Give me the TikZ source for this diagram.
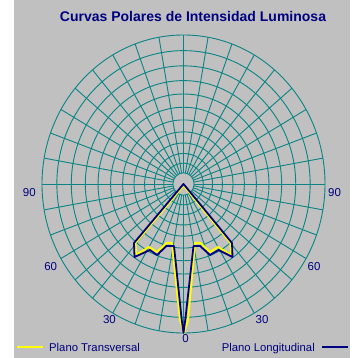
\documentclass[tikz,border=0pt]{standalone}
\usepackage{fontspec}
\setmainfont{Liberation Sans}
\definecolor{panelgray}{RGB}{192,192,192}
\definecolor{gridteal}{RGB}{10,132,132}
\definecolor{labelnavy}{RGB}{0,0,128}
\definecolor{curveyellow}{RGB}{255,255,0}
\begin{document}
\begin{tikzpicture}[
    % pixel-like units, y grows downwards
    x=1pt, y=-1pt,
    grid/.style={gridteal, line width=0.9pt},
    anglelabel/.style={text=labelnavy, font=\fontsize{11.5}{11.5}\selectfont, inner sep=0pt},
    legendtext/.style={text=labelnavy, font=\fontsize{11.3}{11.3}\selectfont, inner sep=0pt},
    transversal/.style={curveyellow, line width=2pt, line join=round},
    longitudinal/.style={labelnavy, line width=1.8pt, line join=round}
]
    \useasboundingbox (0,0) rectangle (358,358);
    \fill[panelgray] (14,0) rectangle (350,358);

    % --- Centre of the polar chart ---
    \coordinate (C) at (183.5,184);

    % --- Rings ---
    \foreach \f in {0.075,0.14,0.205,0.275,0.35,0.43,0.515,0.604,0.694,0.793,0.895,1}
        \draw[grid] (C) ellipse [x radius=\f*141.5pt, y radius=\f*149pt];

    % --- Spokes every 10 degrees ---
    \foreach \a in {0,10,...,350}
        \draw[grid] ([shift={(C)}]\a:10.6pt and 11.2pt) -- ([shift={(C)}]\a:141.5pt and 149pt);

    % --- Angle labels ---
    \node[anglelabel] (l90w) at (29.3,192.5) {90};
    \node[anglelabel] (l90e) at (334.5,192.5) {90};
    \node[anglelabel] (l60w) at (50.7,267) {60};
    \node[anglelabel] (l60e) at (314,267) {60};
    \node[anglelabel] (l30w) at (109.5,320) {30};
    \node[anglelabel] (l30e) at (262,320) {30};
    \node[anglelabel] (l0) at (185.5,339) {0};

    % --- Intensity curves ---
    \draw[transversal] (183.5,185.5) -- (230.5,243) -- (231,255) -- (218,247) -- (210,252)
        -- (200.5,243) -- (195,243) -- (188,320) -- (184,333) -- (180,320) -- (172,243)
        -- (166.5,243) -- (157,252) -- (149,247) -- (136,255) -- (135.5,243) -- cycle;
    \draw[longitudinal] (183.5,184) -- (232,243) -- (232.5,257) -- (218.5,250) -- (210,255)
        -- (200,246) -- (193.5,246) -- (185.5,318) -- (183.5,333) -- (181.5,318) -- (174,246)
        -- (166.5,246) -- (157,255) -- (150,250) -- (134.5,257) -- (134,243) -- cycle;

    % --- Title ---
    \node[anchor=base, inner sep=0pt, text=labelnavy, font=\bfseries\fontsize{14}{14}\selectfont]
        (title) at (193,21.7) {Curvas Polares de Intensidad Luminosa};

    % --- Legend ---
    \coordinate (trA) at (17,347);
    \coordinate (trB) at (43,347);
    \draw[curveyellow, line width=1.8pt] (trA) -- (trB);
    \node[legendtext, anchor=base west] (trtext) at (49,351.5) {Plano Transversal};
    \coordinate (loA) at (322,347);
    \coordinate (loB) at (348,347);
    \draw[labelnavy, line width=1.8pt] (loA) -- (loB);
    \node[legendtext, anchor=base east] (lotext) at (315,351.5) {Plano Longitudinal};
\end{tikzpicture}
\end{document}
